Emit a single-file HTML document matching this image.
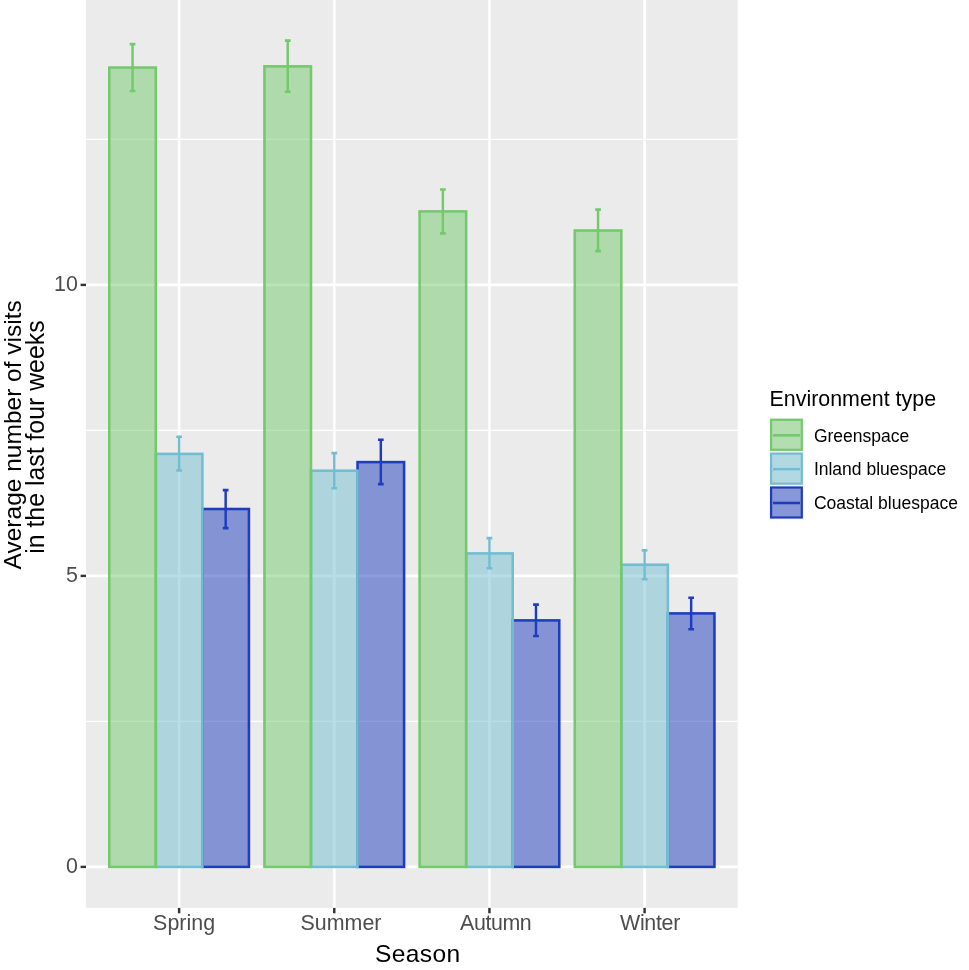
<!DOCTYPE html>
<html><head><meta charset="utf-8"><title>Seasonal visits</title>
<style>html,body{margin:0;padding:0;background:#fff}svg{display:block}text{font-family:"Liberation Sans",Arial,Helvetica,sans-serif}</style></head>
<body>
<svg width="969" height="970" viewBox="0 0 969 970">
<rect width="969" height="970" fill="#fff"/>
<rect x="86.0" y="0" width="651.70" height="907.9" fill="#EBEBEB"/>
<line x1="86.0" x2="737.7" y1="721.40" y2="721.40" stroke="#fff" stroke-width="1.38"/>
<line x1="86.0" x2="737.7" y1="430.40" y2="430.40" stroke="#fff" stroke-width="1.38"/>
<line x1="86.0" x2="737.7" y1="139.40" y2="139.40" stroke="#fff" stroke-width="1.38"/>
<line x1="86.0" x2="737.7" y1="866.90" y2="866.90" stroke="#fff" stroke-width="2.65"/>
<line x1="86.0" x2="737.7" y1="575.90" y2="575.90" stroke="#fff" stroke-width="2.65"/>
<line x1="86.0" x2="737.7" y1="284.90" y2="284.90" stroke="#fff" stroke-width="2.65"/>
<line x1="179.10" x2="179.10" y1="0" y2="907.9" stroke="#fff" stroke-width="2.65"/>
<line x1="334.27" x2="334.27" y1="0" y2="907.9" stroke="#fff" stroke-width="2.65"/>
<line x1="489.43" x2="489.43" y1="0" y2="907.9" stroke="#fff" stroke-width="2.65"/>
<line x1="644.60" x2="644.60" y1="0" y2="907.9" stroke="#fff" stroke-width="2.65"/>
<rect x="202.38" y="509.00" width="46.55" height="357.90" fill="#1E3CBE" fill-opacity="0.5" stroke="#1E3CBE" stroke-width="2.55"/>
<rect x="155.82" y="453.90" width="46.55" height="413.00" fill="#72BDD1" fill-opacity="0.5" stroke="#72BDD1" stroke-width="2.55"/>
<rect x="109.27" y="67.55" width="46.55" height="799.35" fill="#73C96B" fill-opacity="0.5" stroke="#73C96B" stroke-width="2.55"/>
<rect x="357.54" y="462.10" width="46.55" height="404.80" fill="#1E3CBE" fill-opacity="0.5" stroke="#1E3CBE" stroke-width="2.55"/>
<rect x="310.99" y="470.70" width="46.55" height="396.20" fill="#72BDD1" fill-opacity="0.5" stroke="#72BDD1" stroke-width="2.55"/>
<rect x="264.44" y="66.35" width="46.55" height="800.55" fill="#73C96B" fill-opacity="0.5" stroke="#73C96B" stroke-width="2.55"/>
<rect x="512.71" y="620.40" width="46.55" height="246.50" fill="#1E3CBE" fill-opacity="0.5" stroke="#1E3CBE" stroke-width="2.55"/>
<rect x="466.16" y="553.40" width="46.55" height="313.50" fill="#72BDD1" fill-opacity="0.5" stroke="#72BDD1" stroke-width="2.55"/>
<rect x="419.61" y="211.40" width="46.55" height="655.50" fill="#73C96B" fill-opacity="0.5" stroke="#73C96B" stroke-width="2.55"/>
<rect x="667.88" y="613.40" width="46.55" height="253.50" fill="#1E3CBE" fill-opacity="0.5" stroke="#1E3CBE" stroke-width="2.55"/>
<rect x="621.33" y="564.70" width="46.55" height="302.20" fill="#72BDD1" fill-opacity="0.5" stroke="#72BDD1" stroke-width="2.55"/>
<rect x="574.78" y="230.50" width="46.55" height="636.40" fill="#73C96B" fill-opacity="0.5" stroke="#73C96B" stroke-width="2.55"/>
<path d="M132.55 44.10V91.05" fill="none" stroke="#73C96B" stroke-width="2.45"/><path d="M129.70 44.10H135.40M129.70 91.05H135.40" fill="none" stroke="#73C96B" stroke-width="2.6"/>
<path d="M179.10 436.70V470.50" fill="none" stroke="#72BDD1" stroke-width="2.45"/><path d="M176.25 436.70H181.95M176.25 470.50H181.95" fill="none" stroke="#72BDD1" stroke-width="2.6"/>
<path d="M225.65 490.10V528.10" fill="none" stroke="#1E3CBE" stroke-width="2.45"/><path d="M222.80 490.10H228.50M222.80 528.10H228.50" fill="none" stroke="#1E3CBE" stroke-width="2.6"/>
<path d="M287.72 40.60V91.80" fill="none" stroke="#73C96B" stroke-width="2.45"/><path d="M284.87 40.60H290.57M284.87 91.80H290.57" fill="none" stroke="#73C96B" stroke-width="2.6"/>
<path d="M334.27 453.10V488.30" fill="none" stroke="#72BDD1" stroke-width="2.45"/><path d="M331.42 453.10H337.12M331.42 488.30H337.12" fill="none" stroke="#72BDD1" stroke-width="2.6"/>
<path d="M380.82 439.80V484.10" fill="none" stroke="#1E3CBE" stroke-width="2.45"/><path d="M377.97 439.80H383.67M377.97 484.10H383.67" fill="none" stroke="#1E3CBE" stroke-width="2.6"/>
<path d="M442.88 189.50V233.40" fill="none" stroke="#73C96B" stroke-width="2.45"/><path d="M440.03 189.50H445.73M440.03 233.40H445.73" fill="none" stroke="#73C96B" stroke-width="2.6"/>
<path d="M489.43 538.10V568.30" fill="none" stroke="#72BDD1" stroke-width="2.45"/><path d="M486.58 538.10H492.28M486.58 568.30H492.28" fill="none" stroke="#72BDD1" stroke-width="2.6"/>
<path d="M535.98 604.60V636.00" fill="none" stroke="#1E3CBE" stroke-width="2.45"/><path d="M533.13 604.60H538.83M533.13 636.00H538.83" fill="none" stroke="#1E3CBE" stroke-width="2.6"/>
<path d="M598.05 209.60V251.10" fill="none" stroke="#73C96B" stroke-width="2.45"/><path d="M595.20 209.60H600.90M595.20 251.10H600.90" fill="none" stroke="#73C96B" stroke-width="2.6"/>
<path d="M644.60 550.40V579.20" fill="none" stroke="#72BDD1" stroke-width="2.45"/><path d="M641.75 550.40H647.45M641.75 579.20H647.45" fill="none" stroke="#72BDD1" stroke-width="2.6"/>
<path d="M691.15 597.70V629.30" fill="none" stroke="#1E3CBE" stroke-width="2.45"/><path d="M688.30 597.70H694.00M688.30 629.30H694.00" fill="none" stroke="#1E3CBE" stroke-width="2.6"/>
<line x1="80.60" x2="86.0" y1="866.90" y2="866.90" stroke="#333" stroke-width="2.45"/>
<line x1="80.60" x2="86.0" y1="575.90" y2="575.90" stroke="#333" stroke-width="2.45"/>
<line x1="80.60" x2="86.0" y1="284.90" y2="284.90" stroke="#333" stroke-width="2.45"/>
<line x1="179.10" x2="179.10" y1="907.9" y2="913.30" stroke="#333" stroke-width="2.45"/>
<line x1="334.27" x2="334.27" y1="907.9" y2="913.30" stroke="#333" stroke-width="2.45"/>
<line x1="489.43" x2="489.43" y1="907.9" y2="913.30" stroke="#333" stroke-width="2.45"/>
<line x1="644.60" x2="644.60" y1="907.9" y2="913.30" stroke="#333" stroke-width="2.45"/>
<text x="65.9" y="872.80" font-size="21.4" fill="#4D4D4D">0</text>
<text x="65.9" y="581.80" font-size="21.4" fill="#4D4D4D">5</text>
<text x="54.0" y="290.80" font-size="21.4" fill="#4D4D4D">10</text>
<text x="153.1" y="930" font-size="21.4" letter-spacing="0.02" fill="#4D4D4D">Spring</text>
<text x="300.6" y="930" font-size="21.4" letter-spacing="0.0" fill="#4D4D4D">Summer</text>
<text x="460.1" y="930" font-size="21.4" letter-spacing="-0.42" fill="#4D4D4D">Autumn</text>
<text x="620.0" y="930" font-size="21.4" letter-spacing="-0.3" fill="#4D4D4D">Winter</text>
<text x="375.1" y="961.6" font-size="24.6" letter-spacing="0.33" fill="#000">Season</text>
<text transform="translate(21,569.4) rotate(-90)" font-size="24.5" fill="#000">Average number of visits</text>
<text transform="translate(43.7,553.8) rotate(-90)" font-size="24.85" fill="#000">in the last four weeks</text>
<text x="769.6" y="405.9" font-size="21.4" fill="#000">Environment type</text>
<rect x="769.5" y="417.90" width="34" height="33.9" fill="#F2F2F2"/>
<rect x="771.10" y="419.80" width="30.70" height="30.00" fill="#73C96B" fill-opacity="0.5" stroke="#73C96B" stroke-width="2.2"/>
<line x1="773" x2="800" y1="435.30" y2="435.30" stroke="#73C96B" stroke-width="2.6"/>
<text x="813.9" y="441.50" font-size="17.5" fill="#000">Greenspace</text>
<rect x="769.5" y="451.75" width="34" height="33.9" fill="#F2F2F2"/>
<rect x="771.10" y="453.65" width="30.70" height="30.00" fill="#72BDD1" fill-opacity="0.5" stroke="#72BDD1" stroke-width="2.2"/>
<line x1="773" x2="800" y1="469.15" y2="469.15" stroke="#72BDD1" stroke-width="2.6"/>
<text x="813.9" y="475.35" font-size="17.5" fill="#000">Inland bluespace</text>
<rect x="769.5" y="485.60" width="34" height="33.9" fill="#F2F2F2"/>
<rect x="771.10" y="487.50" width="30.70" height="30.00" fill="#1E3CBE" fill-opacity="0.5" stroke="#1E3CBE" stroke-width="2.2"/>
<line x1="773" x2="800" y1="503.00" y2="503.00" stroke="#1E3CBE" stroke-width="2.6"/>
<text x="813.9" y="509.20" font-size="17.5" fill="#000">Coastal bluespace</text>
</svg>
</body></html>
